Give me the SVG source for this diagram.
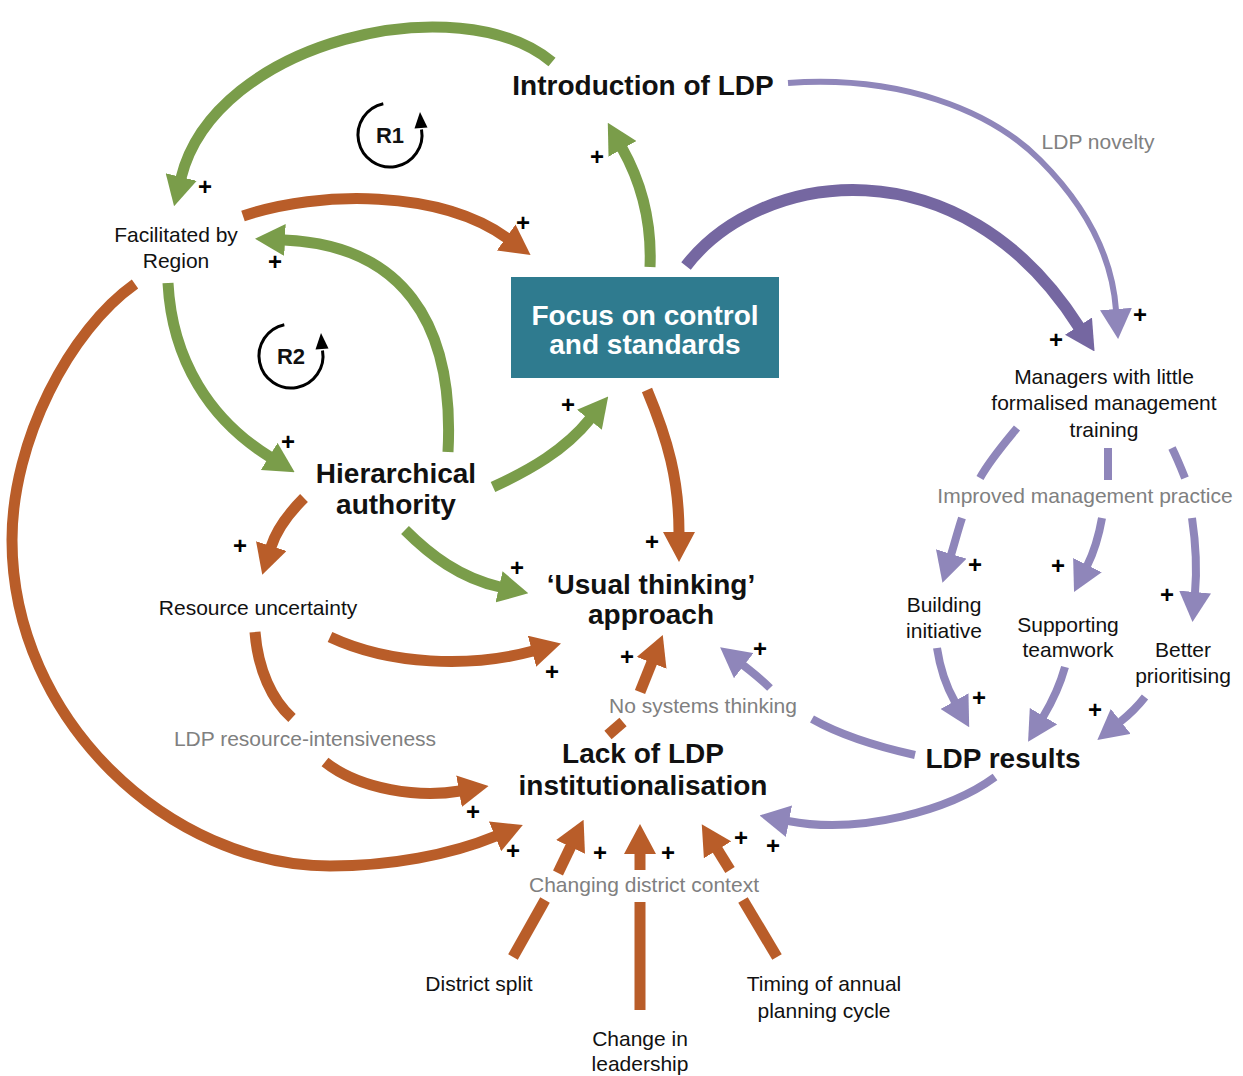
<svg xmlns="http://www.w3.org/2000/svg" width="1243" height="1076" viewBox="0 0 1243 1076">
<defs>
<style>
.t{font-family:"Liberation Sans",Arial,sans-serif;text-anchor:middle;fill:#111}
.n{font-size:21px}
.b{font-size:28px;font-weight:bold}
.g{font-size:21px;fill:#808080}
.pl{font-size:24px;font-weight:bold;fill:#000}
.lk{fill:none;stroke-linecap:butt}
.gr{stroke:#7A9D4A;stroke-width:11}
.or{stroke:#B95D29;stroke-width:11}
.lp{stroke:#8F86BA;stroke-width:8}
.np{stroke:#8F86BA;stroke-width:6}
.dp{stroke:#7567A1;stroke-width:12}
.loop{fill:none;stroke:#000;stroke-width:3}
</style>
<marker id="hG" markerUnits="userSpaceOnUse" viewBox="0 0 30 32" refX="1" refY="16" markerWidth="30" markerHeight="32" orient="auto"><path d="M0,0L30,16L0,32Z" fill="#7A9D4A"/></marker>
<marker id="hO" markerUnits="userSpaceOnUse" viewBox="0 0 30 32" refX="1" refY="16" markerWidth="30" markerHeight="32" orient="auto"><path d="M0,0L30,16L0,32Z" fill="#B95D29"/></marker>
<marker id="hL" markerUnits="userSpaceOnUse" viewBox="0 0 30 32" refX="1" refY="16" markerWidth="30" markerHeight="32" orient="auto"><path d="M0,0L30,16L0,32Z" fill="#8F86BA"/></marker>
<marker id="hD" markerUnits="userSpaceOnUse" viewBox="0 0 30 32" refX="1" refY="16" markerWidth="30" markerHeight="32" orient="auto"><path d="M0,0L30,16L0,32Z" fill="#7567A1"/></marker>
</defs>
<rect width="1243" height="1076" fill="#fff"/>

<!-- connectors -->
<g id="connectors">
  <!-- green links -->
  <path class="lk gr" d="M552,62 C460,-15 215,40 181,178" marker-end="url(#hG)"/>
  <path class="lk gr" d="M448,452 C455,320 400,245 284,240" marker-end="url(#hG)"/>
  <path class="lk gr" d="M168,283 C172,360 210,420 270,457" marker-end="url(#hG)"/>
  <path class="lk gr" d="M650,267 C652,220 640,180 622,148" marker-end="url(#hG)"/>
  <path class="lk gr" d="M493,487 C530,470 565,450 590,419" marker-end="url(#hG)"/>
  <path class="lk gr" d="M405,530 C430,555 460,578 500,587" marker-end="url(#hG)"/>
  <!-- orange links -->
  <path class="lk or" d="M243,216 C320,190 440,190 507,238" marker-end="url(#hO)"/>
  <path class="lk or" d="M647,390 C668,440 679,480 679,533" marker-end="url(#hO)"/>
  <path class="lk or" d="M304,498 C290,512 277,528 271,547" marker-end="url(#hO)"/>
  <path class="lk or" d="M330,637 C390,665 470,668 533,651" marker-end="url(#hO)"/>
  <path class="lk or" d="M255,632 C258,670 272,700 292,718"/>
  <path class="lk or" d="M325,762 C360,790 420,798 460,791" marker-end="url(#hO)"/>
  <path class="lk or" d="M135,284 C70,330 12,440 12,540 C12,720 170,866 330,866 C390,866 450,855 496,836" marker-end="url(#hO)"/>
  <path class="lk or" d="M608,735 L623,722"/>
  <path class="lk or" d="M640,692 L652,662" marker-end="url(#hO)"/>
  <path class="lk or" d="M513,957 L545,900"/>
  <path class="lk or" d="M558,873 L571,846" marker-end="url(#hO)"/>
  <path class="lk or" d="M640,1010 L640,902"/>
  <path class="lk or" d="M640,870 L640,853" marker-end="url(#hO)"/>
  <path class="lk or" d="M777,957 L743,900"/>
  <path class="lk or" d="M730,870 L717,849" marker-end="url(#hO)"/>
  <!-- purple links -->
  <path class="lk dp" d="M686,266 C760,170 960,140 1079,327" marker-end="url(#hD)"/>
  <path class="lk np" d="M788,83 C900,75 990,110 1040,160 C1085,205 1112,255 1116,310" marker-end="url(#hL)"/>
  <path class="lk lp" d="M1017,428 C1003,445 990,460 980,478"/>
  <path class="lk lp" d="M962,518 C958,530 955,542 951,555" marker-end="url(#hL)"/>
  <path class="lk lp" d="M1108,448 L1108,480"/>
  <path class="lk lp" d="M1102,518 C1099,535 1094,552 1087,566" marker-end="url(#hL)"/>
  <path class="lk lp" d="M1172,448 C1177,458 1181,468 1185,478"/>
  <path class="lk lp" d="M1192,518 C1196,545 1197,570 1195,593" marker-end="url(#hL)"/>
  <path class="lk lp" d="M937,648 C940,668 946,686 955,702" marker-end="url(#hL)"/>
  <path class="lk lp" d="M1065,667 C1060,685 1052,702 1043,717" marker-end="url(#hL)"/>
  <path class="lk lp" d="M1145,697 C1138,706 1130,714 1120,722" marker-end="url(#hL)"/>
  <path class="lk lp" d="M915,755 C870,745 835,732 812,719"/>
  <path class="lk lp" d="M770,688 C762,680 752,672 743,665" marker-end="url(#hL)"/>
  <path class="lk lp" d="M995,777 C950,810 860,835 788,821" marker-end="url(#hL)"/>
</g>

<!-- link labels -->
<g id="link-labels" class="t g">
  <text x="1098" y="149">LDP novelty</text>
  <text x="1085" y="503">Improved management practice</text>
  <text x="703" y="713">No systems thinking</text>
  <text x="305" y="746">LDP resource-intensiveness</text>
  <text x="644" y="892">Changing district context</text>
</g>

<!-- polarity signs -->
<g id="polarity" class="t pl">
  <text x="205" y="195">+</text>
  <text x="523" y="231">+</text>
  <text x="275" y="270">+</text>
  <text x="597" y="165">+</text>
  <text x="288" y="450">+</text>
  <text x="568" y="413">+</text>
  <text x="240" y="554">+</text>
  <text x="517" y="576">+</text>
  <text x="652" y="550">+</text>
  <text x="552" y="680">+</text>
  <text x="627" y="665">+</text>
  <text x="760" y="657">+</text>
  <text x="473" y="820">+</text>
  <text x="513" y="859">+</text>
  <text x="600" y="861">+</text>
  <text x="668" y="861">+</text>
  <text x="741" y="846">+</text>
  <text x="773" y="854">+</text>
  <text x="1056" y="348">+</text>
  <text x="1140" y="323">+</text>
  <text x="975" y="573">+</text>
  <text x="1058" y="574">+</text>
  <text x="1167" y="603">+</text>
  <text x="979" y="706">+</text>
  <text x="1095" y="718">+</text>
</g>

<!-- loop markers -->
<g id="loop-R1">
  <path class="loop" d="M383.3,103.7 A32,32 0 1 0 421.5,129.4"/>
  <polygon points="420,112 427.5,127.4 414.5,128.6" fill="#000"/>
  <text class="t" x="390" y="143" style="font-size:22px;font-weight:bold">R1</text>
</g>
<g id="loop-R2">
  <path class="loop" d="M284.3,324.7 A32,32 0 1 0 322.5,350.4"/>
  <polygon points="321,333 328.5,348.4 315.5,349.6" fill="#000"/>
  <text class="t" x="291" y="364" style="font-size:22px;font-weight:bold">R2</text>
</g>

<!-- nodes -->
<g id="introduction-of-ldp"><text class="t b" x="643" y="95">Introduction of LDP</text></g>
<g id="focus-on-control">
  <rect x="511" y="277" width="268" height="101" fill="#2F7B8F"/>
  <text class="t b" x="645" y="325" style="fill:#fff">Focus on control</text>
  <text class="t b" x="645" y="354" style="fill:#fff">and standards</text>
</g>
<g id="facilitated-by-region" class="t n">
  <text x="176" y="242">Facilitated by</text>
  <text x="176" y="268">Region</text>
</g>
<g id="hierarchical-authority" class="t b">
  <text x="396" y="483">Hierarchical</text>
  <text x="396" y="514">authority</text>
</g>
<g id="resource-uncertainty"><text class="t n" x="258" y="615">Resource uncertainty</text></g>
<g id="usual-thinking" class="t b">
  <text x="651" y="594">‘Usual thinking’</text>
  <text x="651" y="624">approach</text>
</g>
<g id="lack-of-ldp-institutionalisation" class="t b">
  <text x="643" y="763">Lack of LDP</text>
  <text x="643" y="795">institutionalisation</text>
</g>
<g id="ldp-results"><text class="t b" x="1003" y="768">LDP results</text></g>
<g id="managers" class="t n">
  <text x="1104" y="384">Managers with little</text>
  <text x="1104" y="410">formalised management</text>
  <text x="1104" y="437">training</text>
</g>
<g id="building-initiative" class="t n">
  <text x="944" y="612">Building</text>
  <text x="944" y="638">initiative</text>
</g>
<g id="supporting-teamwork" class="t n">
  <text x="1068" y="632">Supporting</text>
  <text x="1068" y="657">teamwork</text>
</g>
<g id="better-prioritising" class="t n">
  <text x="1183" y="657">Better</text>
  <text x="1183" y="683">prioritising</text>
</g>
<g id="district-split"><text class="t n" x="479" y="991">District split</text></g>
<g id="change-in-leadership" class="t n">
  <text x="640" y="1046">Change in</text>
  <text x="640" y="1071">leadership</text>
</g>
<g id="timing-of-planning-cycle" class="t n">
  <text x="824" y="991">Timing of annual</text>
  <text x="824" y="1018">planning cycle</text>
</g>
</svg>
